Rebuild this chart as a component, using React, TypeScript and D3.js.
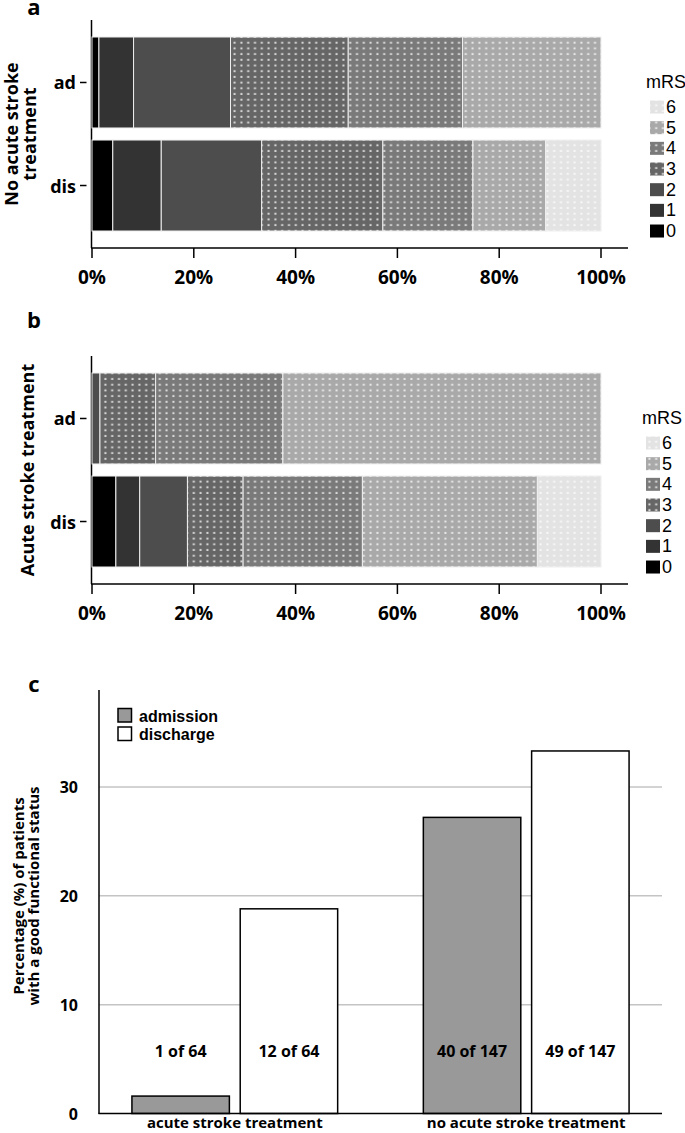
import React from "react";
import * as d3 from "d3";

// ---------- data ----------
const mrsLevels = ["0", "1", "2", "3", "4", "5", "6"];
const barRows = ["ad", "dis"];
// patient counts per mRS level (0..6)
const noTreatAd = [2, 10, 28, 34, 33, 40, 0]; // n = 147
const noTreatDis = [6, 14, 29, 35, 26, 21, 16]; // n = 147
const treatAd = [0, 0, 1, 7, 16, 40, 0]; // n = 64
const treatDis = [3, 3, 6, 7, 15, 22, 8]; // n = 64
const pctTicks = [0, 20, 40, 60, 80, 100];

const groupsC = ["acute stroke treatment", "no acute stroke treatment"];
const seriesC = ["admission", "discharge"];
const admissionPct = [1.6, 27.2];
const dischargePct = [18.8, 33.3];
const admissionLabel = ["1 of 64", "40 of 147"];
const dischargeLabel = ["12 of 64", "49 of 147"];
const yTicksC = [0, 10, 20, 30];

const baseColors = ["#000000", "#333333", "#4d4d4d", "#666666", "#7a7a7a", "#a9a9a9", "#e3e3e3"];
const dotted = [false, false, false, true, true, true, true];

const FONT = "'Open Sans', sans-serif";
const LFONT = "'Liberation Sans', Arial, sans-serif";

function fillFor(i: number) {
  return dotted[i] ? `url(#pat${i})` : baseColors[i];
}

function toRow(name: string, counts: number[]) {
  const total = d3.sum(counts);
  const o: any = { row: name };
  mrsLevels.forEach((k, i) => (o[k] = (counts[i] / total) * 100));
  return o;
}

function StackPanel({ dy, letter, letterY, titleLines, titleX, ad, dis, legendDx }: any) {
  const x = d3.scaleLinear().domain([0, 100]).range([92, 601]);
  const y = d3.scaleBand().domain(barRows).range([37 + dy, 231 + dy]).paddingInner(0.117);
  const stacked = d3.stack().keys(mrsLevels)([toRow("ad", ad), toRow("dis", dis)] as any);
  const axisY = 248 + dy;
  const legendItems = mrsLevels.slice().reverse();
  return (
    <g>
      <text x={34} y={letterY} fontFamily={FONT} fontWeight={700} fontSize={22} textAnchor="middle">
        {letter}
      </text>
      {/* y axis line */}
      <line x1={91.5} x2={91.5} y1={20 + dy} y2={axisY} stroke="#000" strokeWidth={1.5} />
      {stacked.map((layer: any, li: number) =>
        layer.map((d: any) => {
          const w = x(d[1]) - x(d[0]);
          if (w <= 0.01) return null;
          return (
            <rect
              key={li + "-" + d.data.row}
              x={x(d[0])}
              y={y(d.data.row)}
              width={w}
              height={y.bandwidth()}
              fill={fillFor(li)}
              stroke="#eeeeee"
              strokeWidth={1}
            />
          );
        })
      )}
      {/* y ticks */}
      {barRows.map((r) => {
        const cy = (y(r) as number) + y.bandwidth() / 2;
        return (
          <g key={r}>
            <line x1={80} x2={86.5} y1={cy} y2={cy} stroke="#000" strokeWidth={1.5} />
            <text x={76} y={cy} fontFamily={FONT} fontWeight={700} fontSize={18} textAnchor="end" dominantBaseline="central">
              {r}
            </text>
          </g>
        );
      })}
      {/* x axis */}
      <line x1={91} x2={628} y1={axisY} y2={axisY} stroke="#000" strokeWidth={1.5} />
      {pctTicks.map((t) => (
        <g key={t}>
          <line x1={x(t)} x2={x(t)} y1={axisY} y2={axisY + 10} stroke="#000" strokeWidth={1.5} />
          <text x={x(t)} y={axisY + 29} fontFamily={FONT} fontWeight={700} fontSize={19} textAnchor="middle" dominantBaseline="central">
            {t + "%"}
          </text>
        </g>
      ))}
      {/* y title */}
      {titleLines.map((ln: string, i: number) => (
        <text
          key={i}
          transform={`translate(${titleX[i]},${134 + dy}) rotate(-90)`}
          fontFamily={FONT}
          fontWeight={700}
          fontSize={18}
          textAnchor="middle"
          dominantBaseline="central"
        >
          {ln}
        </text>
      ))}
      {/* legend */}
      <text x={646 + legendDx} y={82 + dy} fontFamily={LFONT} fontSize={18} dominantBaseline="central">
        mRS
      </text>
      {legendItems.map((k, i) => {
        const li = +k;
        const cy = 107 + dy + i * 20.67;
        return (
          <g key={k}>
            <rect x={650 + legendDx} y={cy - 6.5} width={14} height={13} fill={fillFor(li)} />
            <text x={666 + legendDx} y={cy} fontFamily={LFONT} fontSize={18} dominantBaseline="central">
              {k}
            </text>
          </g>
        );
      })}
    </g>
  );
}

function PanelC() {
  const x0 = d3.scaleBand().domain(groupsC).range([99, 662]).paddingInner(0.294).paddingOuter(0.113);
  const x1 = d3.scaleBand().domain(seriesC).range([0, x0.bandwidth()]).paddingInner(0.1);
  const y = d3.scaleLinear().domain([0, 38.9]).range([1113.5, 690]);
  const vals = [admissionPct, dischargePct];
  const labels = [admissionLabel, dischargeLabel];
  const fills = ["#999999", "#ffffff"];
  return (
    <g>
      <text x={34} y={692} fontFamily={FONT} fontWeight={700} fontSize={22} textAnchor="middle">
        c
      </text>
      {yTicksC.filter((t) => t > 0).map((t) => (
        <line key={t} x1={99} x2={662} y1={y(t)} y2={y(t)} stroke="#c4c4c4" strokeWidth={1.5} />
      ))}
      {yTicksC.map((t) => (
        <text key={t} x={78} y={y(t)} fontFamily={FONT} fontWeight={700} fontSize={16} textAnchor="end" dominantBaseline="central">
          {t}
        </text>
      ))}
      {groupsC.map((g, gi) =>
        seriesC.map((s, si) => {
          const bx = (x0(g) as number) + (x1(s) as number);
          return (
            <g key={g + s}>
              <rect
                x={bx}
                y={y(vals[si][gi])}
                width={x1.bandwidth()}
                height={y(0) - y(vals[si][gi])}
                fill={fills[si]}
                stroke="#000"
                strokeWidth={1.5}
              />
              <text
                x={bx + x1.bandwidth() / 2}
                y={1051}
                fontFamily={FONT}
                fontWeight={700}
                fontSize={16}
                textAnchor="middle"
                dominantBaseline="central"
              >
                {labels[si][gi]}
              </text>
            </g>
          );
        })
      )}
      <line x1={99} x2={99} y1={690} y2={1114} stroke="#000" strokeWidth={1.5} />
      <line x1={98.5} x2={662} y1={1113.5} y2={1113.5} stroke="#000" strokeWidth={1.5} />
      {groupsC.map((g) => (
        <text
          key={g}
          x={(x0(g) as number) + x0.bandwidth() / 2}
          y={1128}
          fontFamily={FONT}
          fontWeight={700}
          fontSize={15}
          textAnchor="middle"
        >
          {g}
        </text>
      ))}
      {/* legend */}
      {seriesC.map((s, i) => (
        <g key={s}>
          <rect x={118} y={708.5 + i * 18.5} width={13.5} height={13.5} fill={fills[i]} stroke="#000" strokeWidth={1.5} />
          <text x={139} y={716 + i * 18.5} fontFamily={LFONT} fontWeight={700} fontSize={16} dominantBaseline="central">
            {s}
          </text>
        </g>
      ))}
      {/* y title */}
      {["Percentage (%) of patients", "with a good functional status"].map((ln, i) => (
        <text
          key={i}
          transform={`translate(${18 + i * 15},896) rotate(-90)`}
          fontFamily={FONT}
          fontWeight={700}
          fontSize={15}
          textAnchor="middle"
          dominantBaseline="central"
        >
          {ln}
        </text>
      ))}
    </g>
  );
}

export default function App() {
  return (
    <svg
      width={685}
      height={1133}
      viewBox="0 0 685 1133"
      style={{ position: "absolute", left: 0, top: 0, background: "#fff" }}
    >
      <defs>
        {baseColors.map((c, i) =>
          dotted[i] ? (
            <pattern key={i} id={`pat${i}`} patternUnits="userSpaceOnUse" width={6.8} height={5.7}>
              <rect width={6.8} height={5.7} fill={c} />
              <rect x={2.4} y={1.8} width={2} height={2} fill="#ffffff" opacity={0.75} />
            </pattern>
          ) : null
        )}
      </defs>
      <rect width={685} height={1133} fill="#fff" />
      <StackPanel
        dy={0}
        letter="a"
        letterY={15}
        titleLines={["No acute stroke", "treatment"]}
        titleX={[11, 29]}
        ad={noTreatAd}
        dis={noTreatDis}
        legendDx={0}
      />
      <StackPanel
        dy={336}
        letter="b"
        letterY={328}
        titleLines={["Acute stroke treatment"]}
        titleX={[27]}
        ad={treatAd}
        dis={treatDis}
        legendDx={-4}
      />
      <PanelC />
    </svg>
  );
}
